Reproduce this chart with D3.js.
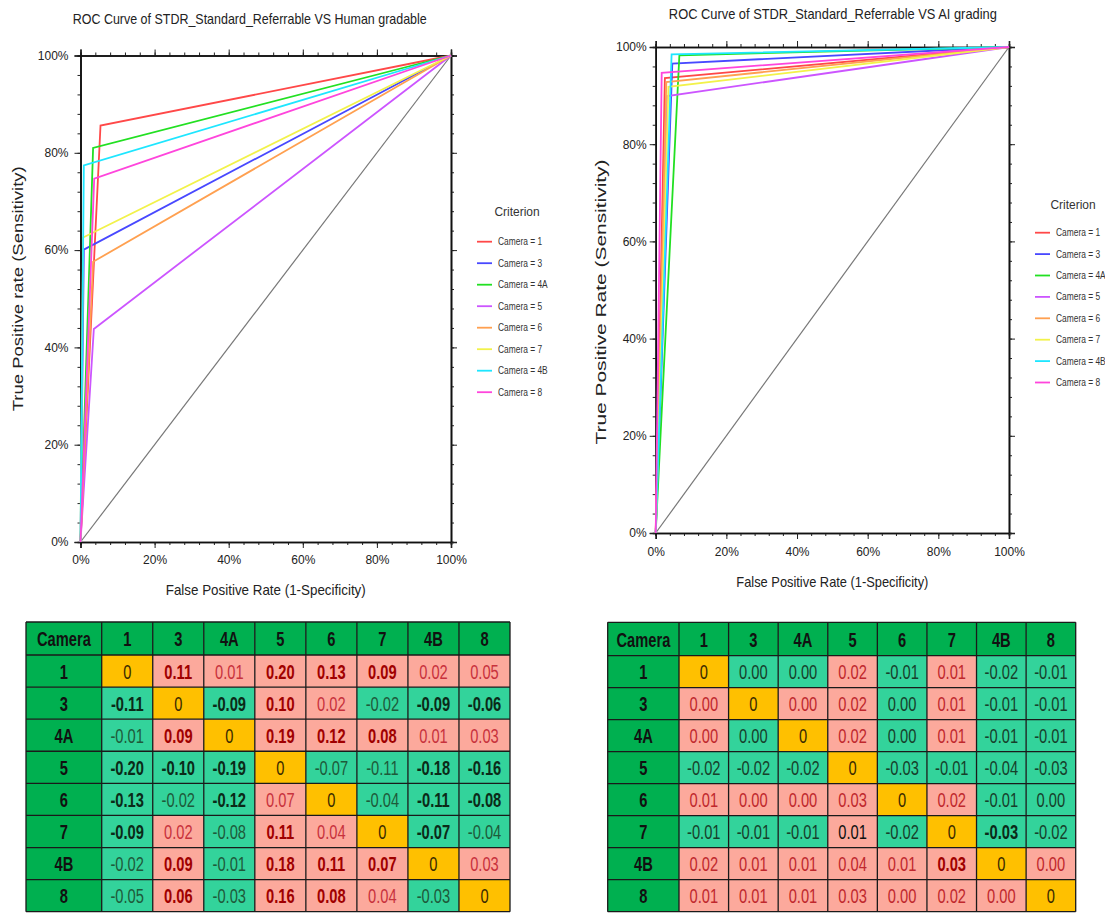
<!DOCTYPE html>
<html><head><meta charset="utf-8">
<script src="https://cdn.jsdelivr.net/npm/d3@7"></script>
<style>body{margin:0;background:#fff}svg{display:block;font-family:"Liberation Sans",Arial,sans-serif}</style>
</head><body><svg id="c" width="1105" height="913"></svg>
<script>
// ---------- data ----------
const cameras = ["1","3","4A","5","6","7","4B","8"];
const legendLabels = cameras.map(c => "Camera = " + c);
const humanFPR = [0.054, 0.009, 0.034, 0.036, 0.034, 0.007, 0.009, 0.037];
const humanTPR = [0.856, 0.601, 0.810, 0.438, 0.576, 0.626, 0.774, 0.747];
const aiFPR    = [0.026, 0.047, 0.067, 0.033, 0.030, 0.036, 0.045, 0.017];
const aiTPR    = [0.936, 0.966, 0.983, 0.899, 0.928, 0.918, 0.985, 0.947];
const cameraColors = ["#ff4848","#4848ff","#22e022","#cc55ff","#ffa050","#f2f24a","#1ee6ff","#ff45dc"];
const majorTicks = [0, 0.2, 0.4, 0.6, 0.8, 1];
const minorTicks = d3.range(0, 25).map(i => i * 0.04).concat([1]);
const titleHuman = "ROC Curve  of STDR_Standard_Referrable  VS Human  gradable";
const titleAI = "ROC Curve  of STDR_Standard_Referrable VS AI grading";
const xTitle = "False Positive Rate (1-Specificity)";
const yTitleHuman = "True Positive rate (Sensitivity)";
const yTitleAI = "True Positive Rate (Sensitivity)";
const legendTitle = "Criterion";
const tableCorner = "Camera";

const humanDiff = [
 ["0","0.11","0.01","0.20","0.13","0.09","0.02","0.05"],
 ["-0.11","0","-0.09","0.10","0.02","-0.02","-0.09","-0.06"],
 ["-0.01","0.09","0","0.19","0.12","0.08","0.01","0.03"],
 ["-0.20","-0.10","-0.19","0","-0.07","-0.11","-0.18","-0.16"],
 ["-0.13","-0.02","-0.12","0.07","0","-0.04","-0.11","-0.08"],
 ["-0.09","0.02","-0.08","0.11","0.04","0","-0.07","-0.04"],
 ["-0.02","0.09","-0.01","0.18","0.11","0.07","0","0.03"],
 ["-0.05","0.06","-0.03","0.16","0.08","0.04","-0.03","0"]];
// sign class: d diagonal, p positive, n negative, k positive with black text
const humanSign = ["dppppppp","ndnppnnn","npdppppp","nnndnnnn","nnnpdnnn","npnppdnn","npnpppdp","npnpppnd"];
const humanBold = ["01011100","10110011","01011100","11100011","10100011","10010010","01011100","01011000"];

const aiDiff = [
 ["0","0.00","0.00","0.02","-0.01","0.01","-0.02","-0.01"],
 ["0.00","0","0.00","0.02","0.00","0.01","-0.01","-0.01"],
 ["0.00","0.00","0","0.02","0.00","0.01","-0.01","-0.01"],
 ["-0.02","-0.02","-0.02","0","-0.03","-0.01","-0.04","-0.03"],
 ["0.01","0.00","0.00","0.03","0","0.02","-0.01","0.00"],
 ["-0.01","-0.01","-0.01","0.01","-0.02","0","-0.03","-0.02"],
 ["0.02","0.01","0.01","0.04","0.01","0.03","0","0.00"],
 ["0.01","0.01","0.01","0.03","0.00","0.02","0.00","0"]];
const aiSign = ["dnnpnpnn","pdppnpnn","pndpnpnn","nnndnnnn","ppppdpnn","nnnkndnn","ppppppdp","pppppppd"];
const aiBold = ["00000000","00000000","00000000","00000000","00000000","00000010","00000100","00000000"];

// ---------- drawing ----------
const svg = d3.select("#c");
const FONT = '"Liberation Sans",Arial,sans-serif';

function drawRoc(c) {
  const x = d3.scaleLinear().domain([0,1]).range([c.x0, c.x1]);
  const y = d3.scaleLinear().domain([0,1]).range([c.y0, c.y1]);
  const g = svg.append("g");
  const style = sel => { sel.select(".domain").attr("stroke","#111").attr("stroke-width",1.6);
    sel.selectAll(".tick line").attr("stroke","#222").attr("stroke-width",1);
    sel.selectAll("text").attr("font-size",12).attr("fill","#222").attr("font-family",FONT); };
  // minor
  g.append("g").attr("transform",`translate(0,${c.y0})`).call(d3.axisBottom(x).tickValues(minorTicks).tickSize(3).tickFormat("")).call(style);
  g.append("g").attr("transform",`translate(0,${c.y1})`).call(d3.axisTop(x).tickValues(minorTicks).tickSize(3).tickFormat("")).call(style);
  g.append("g").attr("transform",`translate(${c.x0},0)`).call(d3.axisLeft(y).tickValues(minorTicks).tickSize(3).tickFormat("")).call(style);
  g.append("g").attr("transform",`translate(${c.x1},0)`).call(d3.axisRight(y).tickValues(minorTicks).tickSize(3).tickFormat("")).call(style);
  // major
  g.append("g").attr("transform",`translate(0,${c.y0})`).call(d3.axisBottom(x).tickValues(majorTicks).tickSize(6).tickPadding(c.xPad).tickFormat(d3.format(".0%"))).call(style);
  g.append("g").attr("transform",`translate(0,${c.y1})`).call(d3.axisTop(x).tickValues(majorTicks).tickSize(6).tickFormat("")).call(style);
  g.append("g").attr("transform",`translate(${c.x0},0)`).call(d3.axisLeft(y).tickValues(majorTicks).tickSize(6).tickPadding(c.yPad).tickFormat(d3.format(".0%"))).call(style);
  g.append("g").attr("transform",`translate(${c.x1},0)`).call(d3.axisRight(y).tickValues(majorTicks).tickSize(6).tickFormat("")).call(style);

  // diagonal
  const line = d3.line().x(d => x(d[0])).y(d => y(d[1]));
  g.append("path").attr("d", line([[0,0],[1,1]])).attr("fill","none").attr("stroke","#777").attr("stroke-width",1.2);
  // curves
  cameras.forEach((cam,i) => {
    g.append("path").attr("d", line([[0,0],[c.fpr[i], c.tpr[i]],[1,1]]))
      .attr("fill","none").attr("stroke", cameraColors[i]).attr("stroke-width",1.8).attr("stroke-linejoin","miter");
  });
  // titles
  g.append("text").attr("x",(c.x0+c.x1)/2 + c.titleDx).attr("y",c.titleY).attr("text-anchor","middle")
    .attr("font-size",15).attr("fill","#222").attr("textLength",c.titleW).attr("lengthAdjust","spacingAndGlyphs").text(c.title);
  g.append("text").attr("x",(c.x0+c.x1)/2).attr("y",c.xtY).attr("text-anchor","middle")
    .attr("font-size",15).attr("fill","#222").attr("textLength",c.xtW).attr("lengthAdjust","spacingAndGlyphs").text(xTitle);
  g.append("text").attr("transform",`translate(${c.ytX},${(c.y0+c.y1)/2 + c.ytDy}) rotate(-90)`).attr("text-anchor","middle")
    .attr("font-size",14).attr("fill","#222").attr("textLength",c.ytW).attr("lengthAdjust","spacingAndGlyphs").text(c.yTitle);
  // legend
  const lg = g.append("g");
  lg.append("text").attr("transform",`translate(${c.lgTitleX},${c.lgTitleY}) scale(0.92,1)`).attr("text-anchor","middle")
    .attr("font-size",13).attr("fill","#333").text(legendTitle);
  const ly = d3.scaleLinear().domain([0,1]).range([c.lgY0, c.lgY0 + c.lgStep]);
  legendLabels.forEach((lab,i) => {
    lg.append("line").attr("x1",c.lgX).attr("x2",c.lgX+15).attr("y1",ly(i)).attr("y2",ly(i))
      .attr("stroke",cameraColors[i]).attr("stroke-width",1.8);
    lg.append("text").attr("transform",`translate(${c.lgX+21},${ly(i)+3.5}) scale(0.8,1)`)
      .attr("font-size",10.5).attr("fill","#333").text(lab);
  });
}

drawRoc({x0:80.5,x1:451,y0:542,y1:55.5,fpr:humanFPR,tpr:humanTPR,xPad:7,yPad:6,
  title:titleHuman,titleY:24,titleDx:-16,titleW:354,xtY:595,xtW:200,ytX:23,ytDy:-10,ytW:245,yTitle:yTitleHuman,
  lgTitleX:517,lgTitleY:216,lgX:477,lgY0:241.7,lgStep:21.5});
drawRoc({x0:655.7,x1:1009,y0:533,y1:47,fpr:aiFPR,tpr:aiTPR,xPad:8,yPad:3,
  title:titleAI,titleY:19,titleDx:0.5,titleW:328,xtY:587,xtW:192,ytX:606,ytDy:12,ytW:285,yTitle:yTitleAI,
  lgTitleX:1073,lgTitleY:209,lgX:1035,lgY0:232.7,lgStep:21.4});

function drawTable(t) {
  const g = svg.append("g");
  const cx = d3.scaleBand().domain(cameras).range([t.xFirst, t.x1]);
  const ry = d3.scaleBand().domain(cameras).range([t.yHead, t.y1]);
  const fill = {d:"#ffc000", p:"#fca99c", k:"#fca99c", n:"#33d39b"};
  const txt = (x,y,s,bold,color) => g.append("text").attr("transform",`translate(${x},${y}) scale(0.7,1)`)
    .attr("text-anchor","middle").attr("dy","0.36em").attr("font-size",21).attr("font-weight",bold?"bold":"normal")
    .attr("fill",color).text(s);
  // header row
  g.append("rect").attr("x",t.x0).attr("y",t.y0).attr("width",t.xFirst-t.x0).attr("height",t.yHead-t.y0).attr("fill","#00b050");
  cameras.forEach(c => g.append("rect").attr("x",cx(c)).attr("y",t.y0).attr("width",cx.bandwidth()).attr("height",t.yHead-t.y0).attr("fill","#00b050"));
  cameras.forEach(r => g.append("rect").attr("x",t.x0).attr("y",ry(r)).attr("width",t.xFirst-t.x0).attr("height",ry.bandwidth()).attr("fill","#00b050"));
  t.values.forEach((row,i) => row.forEach((v,j) => {
    const s = t.sign[i][j];
    g.append("rect").attr("x",cx(cameras[j])).attr("y",ry(cameras[i])).attr("width",cx.bandwidth()).attr("height",ry.bandwidth()).attr("fill",fill[s]);
  }));
  // grid lines
  const xs = [t.x0, t.xFirst].concat(cameras.map(c => cx(c)+cx.bandwidth()));
  const ys = [t.y0, t.yHead].concat(cameras.map(c => ry(c)+ry.bandwidth()));
  xs.forEach(x => g.append("line").attr("x1",x).attr("x2",x).attr("y1",t.y0).attr("y2",t.y1).attr("stroke","#1a1a1a").attr("stroke-width",1.3));
  ys.forEach(y => g.append("line").attr("x1",t.x0).attr("x2",t.x1).attr("y1",y).attr("y2",y).attr("stroke","#1a1a1a").attr("stroke-width",1.3));
  // texts
  txt((t.x0+t.xFirst)/2, (t.y0+t.yHead)/2, tableCorner, true, "#111");
  cameras.forEach(c => txt(cx(c)+cx.bandwidth()/2, (t.y0+t.yHead)/2, c, true, "#111"));
  cameras.forEach(r => txt((t.x0+t.xFirst)/2, ry(r)+ry.bandwidth()/2, r, true, "#111"));
  t.values.forEach((row,i) => row.forEach((v,j) => {
    const s = t.sign[i][j], b = t.bold[i][j] === "1";
    let col;
    if (s === "d") col = "#3a2a00";
    else if (s === "k") col = "#111";
    else if (s === "p") col = b ? "#a00000" : t.pinkText;
    else col = b ? "#0b2a18" : t.greenText;
    txt(cx(cameras[j])+cx.bandwidth()/2, ry(cameras[i])+ry.bandwidth()/2, v, b, col);
  }));
}

drawTable({x0:26,xFirst:101.7,x1:510,y0:622,yHead:655,y1:911.7,values:humanDiff,sign:humanSign,bold:humanBold,
  pinkText:"#c8323c",greenText:"#1e5a3a"});
drawTable({x0:607.7,xFirst:679,x1:1075.7,y0:622.3,yHead:655.7,y1:911.7,values:aiDiff,sign:aiSign,bold:aiBold,
  pinkText:"#c0282d",greenText:"#17402b"});
</script></body></html>
